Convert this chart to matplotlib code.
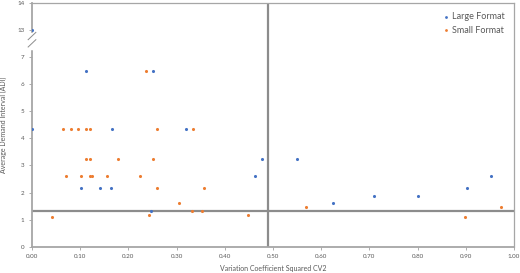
import numpy as np
import matplotlib
matplotlib.use("Agg")
import matplotlib.pyplot as plt

plt.rcParams['font.family'] = ['Lato', 'DejaVu Sans']

# Large Format (blue)
large_cv2 = [0.0, 0.111, 0.250, 0.0, 0.167, 0.320, 0.102, 0.142, 0.163, 0.247,
             0.478, 0.550, 0.463, 0.624, 0.710, 0.800, 0.902, 0.952]
large_adi = [13.0, 6.5, 6.5, 4.33, 4.33, 4.33, 2.16, 2.16, 2.16, 1.30,
             3.25, 3.25, 2.60, 1.62, 1.86, 1.86, 2.16, 2.60]

# Small Format (orange)
small_cv2 = [0.236, 0.065, 0.080, 0.095, 0.111, 0.120, 0.259, 0.333,
             0.111, 0.120, 0.178, 0.250,
             0.071, 0.102, 0.120, 0.125, 0.156, 0.224,
             0.259, 0.356, 0.305, 0.041, 0.243, 0.331, 0.352, 0.448,
             0.569, 0.898, 0.973]
small_adi = [6.5, 4.33, 4.33, 4.33, 4.33, 4.33, 4.33, 4.33,
             3.25, 3.25, 3.25, 3.25,
             2.60, 2.60, 2.60, 2.60, 2.60, 2.60,
             2.16, 2.16, 1.62, 1.08, 1.18, 1.30, 1.30, 1.18,
             1.45, 1.08, 1.45]

cv2_cut = 0.489
adi_cut = 1.32

y_ticks = [0, 1, 2, 3, 4, 5, 6, 7, 13, 14]
x_ticks = [0.0, 0.1, 0.2, 0.3, 0.4, 0.5, 0.6, 0.7, 0.8, 0.9, 1.0]


# broken y axis: 7..13 squeezed into one unit
def fwd(y):
    y = np.asarray(y, dtype=float)
    return np.where(y <= 7, y, np.where(y >= 13, y - 5, 7 + (y - 7) / 6))


def inv(v):
    v = np.asarray(v, dtype=float)
    return np.where(v <= 7, v, np.where(v >= 8, v + 5, 7 + (v - 7) * 6))


grey = '#595959'
fig = plt.figure(figsize=(5.2, 2.73), dpi=100)
ax = fig.add_axes([32 / 520, 1 - 246.7 / 273, 482 / 520, 243.7 / 273])
ax.set_yscale('function', functions=(fwd, inv))

ax.scatter(large_cv2, large_adi, marker='o', s=5, color='#4472C4',
           label='Large Format', zorder=3, linewidths=0)
ax.scatter(small_cv2, small_adi, marker='o', s=5, color='#ED7D31',
           label='Small Format', zorder=3, linewidths=0)

ax.axhline(adi_cut, color='#8c8c8c', lw=1.6, zorder=2)
ax.axvline(cv2_cut, color='#8c8c8c', lw=1.6, zorder=2)

ax.set_xlim(0, 1.0)
ax.set_ylim(0, 14)
ax.set_xticks(x_ticks)
ax.set_xticklabels([f"{t:.2f}" for t in x_ticks])
ax.set_yticks(y_ticks)
ax.set_yticklabels([str(t) for t in y_ticks])
ax.tick_params(labelsize=4.5, colors='#a0a0a0', labelcolor=grey, length=2, width=0.6)

for s in ['top', 'right']:
    ax.spines[s].set_color('#a6a6a6')
    ax.spines[s].set_linewidth(0.9)
for s in ['left', 'bottom']:
    ax.spines[s].set_color('#a6a6a6')
    ax.spines[s].set_linewidth(1.3)

# axis break marks (between 7 and 13, axes coordinates)
yb = 7.6 / 9
ax.plot([0, 0], [yb - 0.03, yb + 0.03], transform=ax.transAxes, color='white',
        lw=2.5, clip_on=False, zorder=4)
for dy in (-0.025, 0.005):
    ax.plot([-0.008, 0.008], [yb + dy, yb + dy + 0.03], transform=ax.transAxes,
            color='#8c8c8c', lw=0.7, clip_on=False, zorder=5)

ax.set_xlabel('Variation Coefficient Squared CV2', fontsize=5, color=grey, labelpad=4)
ax.set_ylabel('Average Demand Interval (ADI)', fontsize=5, color=grey, labelpad=7)

leg = ax.legend(loc='upper right', frameon=False, fontsize=6.5, markerscale=0.9,
                handletextpad=0.2, borderaxespad=0.6, labelspacing=0.5, handlelength=1)
for t in leg.get_texts():
    t.set_color(grey)

fig.savefig('out.png', dpi=100)
